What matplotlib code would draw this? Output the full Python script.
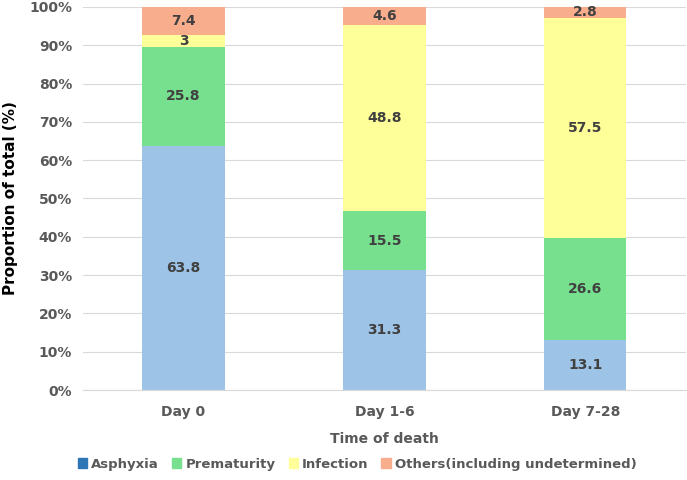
import numpy as np
import matplotlib.pyplot as plt
from matplotlib.patches import Patch

# Data
days = ['Day 0', 'Day 1-6', 'Day 7-28']
causes = ['Asphyxia', 'Prematurity', 'Infection', 'Others(including undetermined)']
asphyxia = [63.8, 31.3, 13.1]
prematurity = [25.8, 15.5, 26.6]
infection = [3, 48.8, 57.5]
others = [7.4, 4.6, 2.8]

bar_colors = ['#9DC3E6', '#77E08F', '#FFFF99', '#F8AD8D']
legend_colors = ['#2E75B6', '#77E08F', '#FFFF99', '#F8AD8D']
txt = '#404040'

series = np.array([asphyxia, prematurity, infection, others], dtype=float)
pct = series / series.sum(axis=0) * 100

fig = plt.figure(figsize=(6.87, 4.8), dpi=100)
ax = fig.add_axes([0.121, 0.1875, 0.877, 0.798])

x = np.arange(len(days))
bottom = np.zeros(len(days))
for i in range(len(causes)):
    ax.bar(x, pct[i], 0.41, bottom=bottom, color=bar_colors[i], zorder=2)
    for j in range(len(days)):
        s = f'{series[i, j]:g}'
        ax.text(x[j], bottom[j] + pct[i, j] / 2, s, ha='center', va='center',
                fontsize=10, fontweight='bold', color=txt, zorder=3)
    bottom += pct[i]

ax.set_xlim(-0.5, 2.5)
ax.set_ylim(0, 100)
ax.set_yticks(np.arange(0, 101, 10))
ax.set_yticklabels([f'{v}%' for v in range(0, 101, 10)])
ax.set_xticks(x)
ax.set_xticklabels(days)
ax.grid(axis='y', color='#D9D9D9', linewidth=0.8, zorder=0)
for sp in ['top', 'right', 'left']:
    ax.spines[sp].set_visible(False)
ax.spines['bottom'].set_color('#D9D9D9')
ax.tick_params(length=0, labelsize=10, labelcolor='#595959', pad=8)
ax.tick_params(axis='x', pad=11)
for t in ax.get_xticklabels() + ax.get_yticklabels():
    t.set_fontweight('bold')

ax.set_xlabel('Time of death', fontsize=10, fontweight='bold', color='#595959', labelpad=9)
ax.set_ylabel('Proportion of total (%)', fontsize=11, fontweight='bold', color='black', labelpad=8)

handles = [Patch(color=c, label=l) for c, l in zip(legend_colors, causes)]
leg = fig.legend(handles=handles, loc='center', bbox_to_anchor=(0.52, 0.033), ncol=4,
                 frameon=False, handlelength=0.7, handleheight=0.7, handletextpad=0.3,
                 columnspacing=1.0, prop={'weight': 'bold', 'size': 9.5})
for t in leg.get_texts():
    t.set_color('#595959')

fig.savefig('out.png', dpi=100)
